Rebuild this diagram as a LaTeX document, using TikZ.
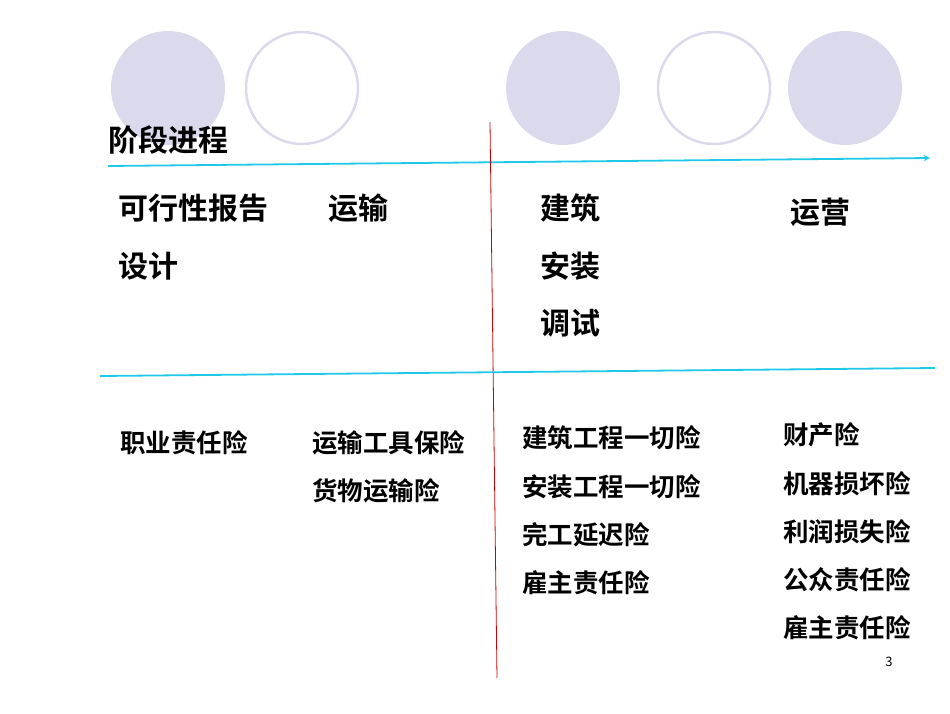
\documentclass[tikz,border=0pt]{standalone}
\usepackage{fontspec}
\setmainfont{Noto Sans CJK SC}[BoldFont={Noto Sans CJK SC Bold}]
\definecolor{lav}{HTML}{DADAEC}
\definecolor{cy}{HTML}{1FC8E8}
\begin{document}
\begin{tikzpicture}[x=1pt,y=-1pt,
  big/.style={anchor=west,inner sep=0pt,font=\fontsize{30}{32}\selectfont\bfseries},
  sm/.style={anchor=west,inner sep=0pt,font=\fontsize{25.5}{28}\selectfont\bfseries}]
\useasboundingbox (0,0) rectangle (950,713);
\fill[lav] (168,88) circle (57);
\draw[lav,line width=2.5pt] (302,88) circle (56);
\fill[lav] (563,88) circle (57);
\draw[lav,line width=2.5pt] (714,88) circle (56);
\fill[lav] (845,88) circle (57);
\node[big] (t) at (108,140) {阶段进程};
\coordinate (a1) at (108,166); \coordinate (a2) at (930,158);
\draw[cy,line width=1.8pt,-stealth] (a1) -- (a2);
\coordinate (r1) at (490,122); \coordinate (r2) at (497,678);
\draw[red!80!black,line width=0.8pt] (r1) -- (r2);
\coordinate (c1) at (100,376); \coordinate (c2) at (935,368);
\draw[cy,line width=1.8pt] (c1) -- (c2);
\node[big] (u1) at (118,208) {可行性报告};
\node[big] (u2) at (328,208) {运输};
\node[big] (u3) at (118,266) {设计};
\node[big] (u4) at (540,208) {建筑};
\node[big] (u5) at (540,266) {安装};
\node[big] (u6) at (540,323) {调试};
\node[big] (u7) at (790,212) {运营};
\node[sm] (l1) at (120,443) {职业责任险};
\node[sm] (l2) at (312,443) {运输工具保险};
\node[sm] (l3) at (312,491) {货物运输险};
\node[sm] (m1) at (522,438) {建筑工程一切险};
\node[sm] (m2) at (522,487) {安装工程一切险};
\node[sm] (m3) at (522,535) {完工延迟险};
\node[sm] (m4) at (522,583) {雇主责任险};
\node[sm] (n1) at (783,435) {财产险};
\node[sm] (n2) at (783,484) {机器损坏险};
\node[sm] (n3) at (783,532) {利润损失险};
\node[sm] (n4) at (783,580) {公众责任险};
\node[sm] (n5) at (783,628) {雇主责任险};
\node[inner sep=0pt,font=\fontsize{13}{14}\selectfont] (pg) at (889,662) {3};
\end{tikzpicture}
\end{document}
